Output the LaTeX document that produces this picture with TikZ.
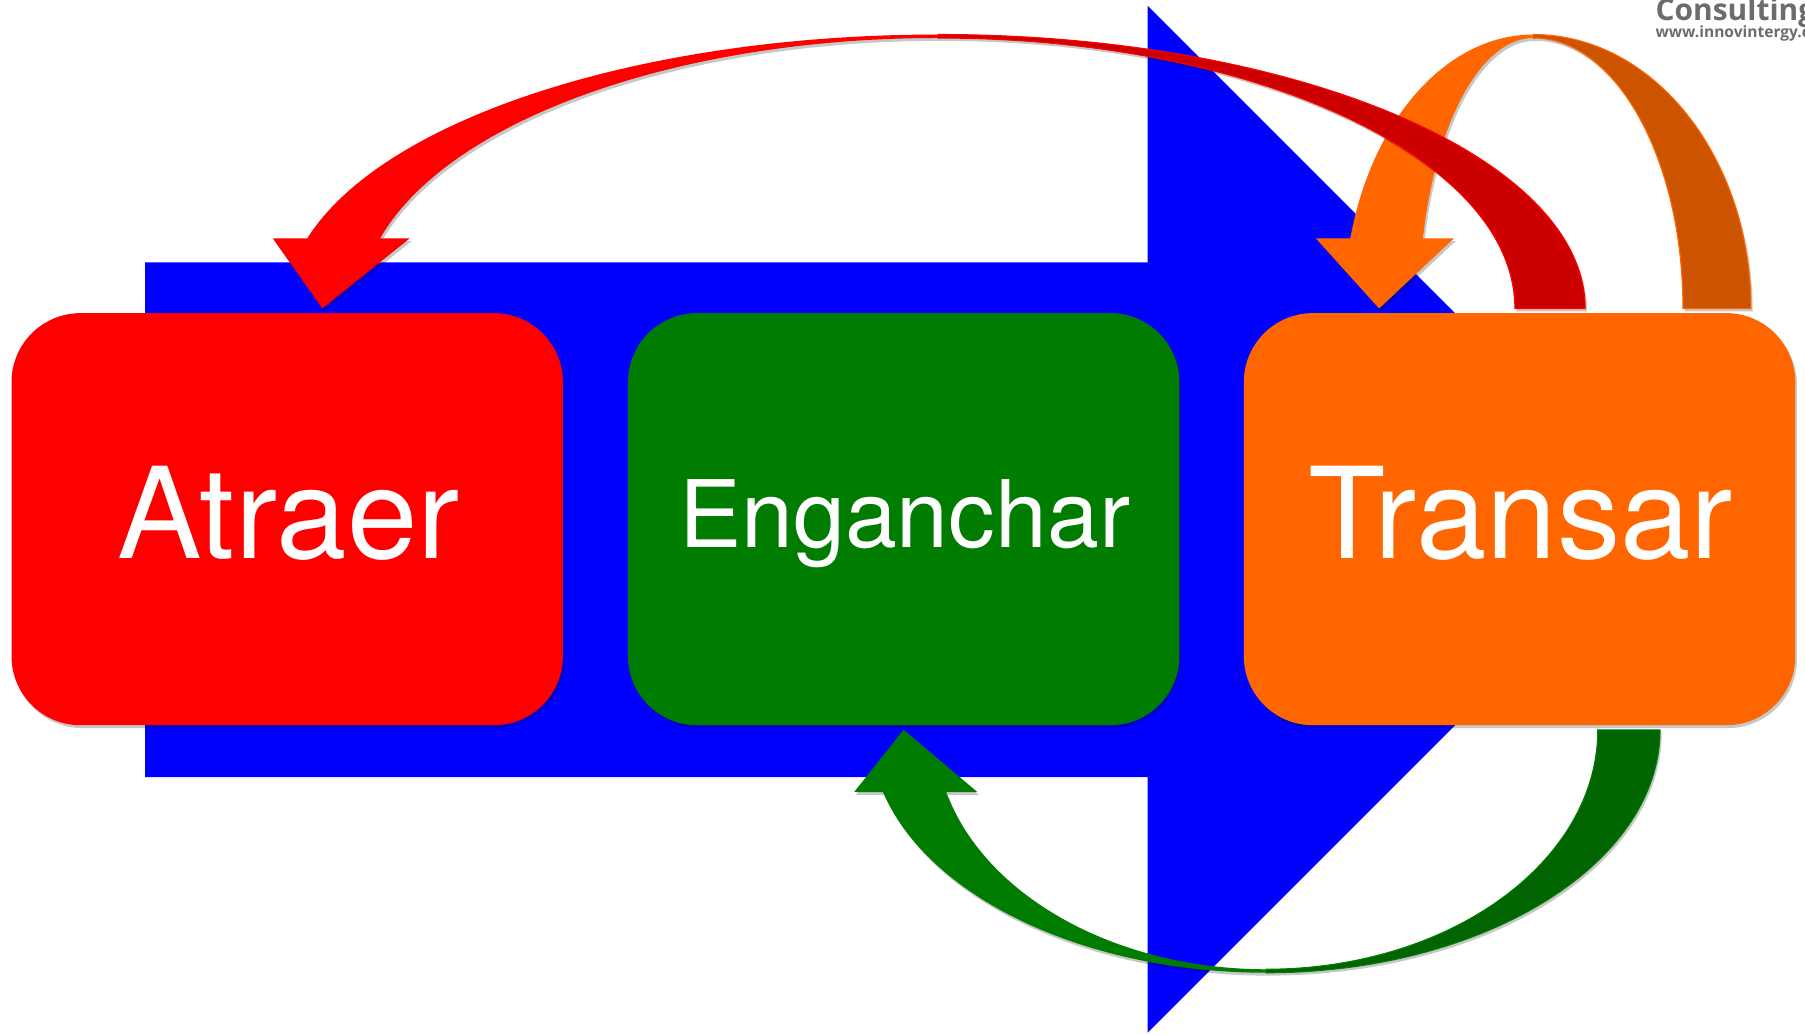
\documentclass[tikz,border=0pt]{standalone}
\usepackage{fontspec}
\setmainfont{TeX Gyre Heros}
\newfontfamily\logofont{Open Sans}
\usetikzlibrary{shadows}
\definecolor{cBlue}{RGB}{0,0,255}
\definecolor{cRed}{RGB}{255,0,0}
\definecolor{cRedBack}{RGB}{204,0,0}
\definecolor{cGreen}{RGB}{0,124,0}
\definecolor{cGreenBack}{RGB}{0,100,0}
\definecolor{cOrange}{RGB}{255,102,0}
\definecolor{cOrangeBack}{RGB}{204,84,0}
\definecolor{cLogo}{RGB}{108,108,108}
\tikzset{
  softshadow/.style={drop shadow={shadow xshift=1.5pt, shadow yshift=-2.5pt, opacity=0.22, fill=black}},
  stagebox/.style={draw=none, rounded corners=60pt, minimum width=479pt, minimum height=358pt, inner sep=0pt, softshadow},
  stagetext/.style={anchor=base, inner sep=0pt, text=white},
  front/.style={softshadow},
  back/.style={line width=1pt, softshadow}
}
\begin{document}
\begin{tikzpicture}[x=1pt,y=-1pt]
\useasboundingbox (0,0) rectangle (1568,899);
\clip (0,0) rectangle (1568,899);
\fill[white] (0,0) rectangle (1568,899);

% big blue arrow
\fill[cBlue] (126,228) -- (997,228) -- (997,5) -- (1443,451) -- (997,897) -- (997,675) -- (126,675) -- cycle;

% stage boxes
\node[stagebox, fill=cRed]    (atraer)    at (249.5,451) {};
\node[stagebox, fill=cGreen]  (enganchar) at (785,451) {};
\node[stagebox, fill=cOrange] (transar)   at (1320,451) {};

\node[stagetext] (atraerTxt)    at (250.5,485) {\fontsize{110}{110}\selectfont Atraer};
\node[stagetext] (engancharTxt) at (786,476)   {\fontsize{81}{81}\selectfont Enganchar};
\node[stagetext] (transarTxt)   at (1321,485)  {\fontsize{110}{110}\selectfont Transar};

% ribbon centres
\coordinate (rc) at (815,268);
\coordinate (oc) at (1332,268);
\coordinate (gc) at (1100,634);
\coordinate (redTip) at (280,268);
\coordinate (orangeTip) at (1198,268);
\coordinate (greenTip) at (785,634);

% green curved arrow (Transar -> Enganchar)
\filldraw[back, fill=cGreenBack, draw=cGreen] (gc) ++(0:342 and 211)
  arc[start angle=0, end angle=90, x radius=342, y radius=211]
  -- ++(0,-3)
  arc[start angle=90, end angle=0, x radius=288, y radius=208] -- cycle;
\fill[front, cGreen] (gc) ++(165.17:344.5 and 211)
  arc[start angle=165.17, end angle=90, x radius=344.5, y radius=211]
  -- ++(0,-3)
  arc[start angle=90, end angle=164.95, x radius=288, y radius=208]
  -- (849,688) -- (greenTip) -- (742,688) -- cycle;

% orange curved arrow (Transar -> Transar)
\filldraw[back, fill=cOrangeBack, draw=cOrange] (oc) ++(270:189 and 238)
  arc[start angle=270, end angle=360, x radius=189, y radius=238]
  -- ++(-59,0)
  arc[start angle=360, end angle=270, x radius=130, y radius=235] -- cycle;
\fill[front, cOrange] (oc) ++(194.85:164.5 and 238)
  arc[start angle=194.85, end angle=270, x radius=164.5, y radius=238]
  -- ++(0,3)
  arc[start angle=270, end angle=195.05, x radius=99.4, y radius=235]
  -- (1263,207) -- (orangeTip) -- (1143,207) -- cycle;

% red curved arrow (Transar -> Atraer)
\filldraw[back, fill=cRedBack, draw=cRed] (rc) ++(270:562 and 238)
  arc[start angle=270, end angle=360, x radius=562, y radius=238]
  -- ++(-61,0)
  arc[start angle=360, end angle=270, x radius=501, y radius=235] -- cycle;
\fill[front, cRed] (rc) ++(194.85:567 and 238)
  arc[start angle=194.85, end angle=270, x radius=567, y radius=238]
  -- ++(0,3)
  arc[start angle=270, end angle=195.05, x radius=502, y radius=235]
  -- (356,207) -- (redTip) -- (237,207) -- cycle;

% logo text (cut by the right and top edges, as in the reference)
\node[anchor=base west, inner sep=0pt, text=cLogo] (logo1) at (1438,18)
  {\logofont\bfseries\fontsize{26}{26}\selectfont Consulting};
\node[anchor=base west, inner sep=0pt, text=cLogo] (logo2) at (1438,32.5)
  {\logofont\bfseries\fontsize{13.5}{13.5}\selectfont www.innovintergy.c};
\end{tikzpicture}
\end{document}
